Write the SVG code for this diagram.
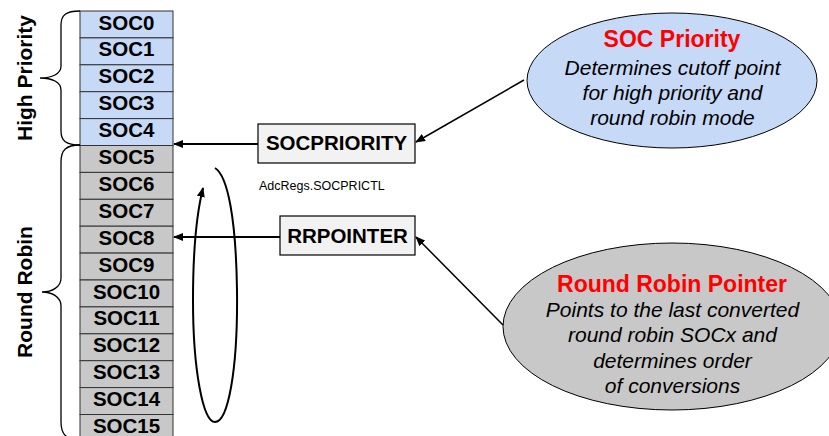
<svg xmlns="http://www.w3.org/2000/svg" width="829" height="436" viewBox="0 0 829 436">
<defs>
<marker id="ah" viewBox="0 0 10 10" refX="9" refY="5" markerWidth="10" markerHeight="10" markerUnits="userSpaceOnUse" orient="auto">
<path d="M0,1 L10,5 L0,9 z" fill="#000"/>
</marker>
<style>
.cell rect{stroke:#333;stroke-width:1}
.hp rect{fill:#C6D9F7}
.rr rect{fill:#C8C8C8}
.cell text{font-family:"Liberation Sans",Arial,sans-serif;font-weight:bold;font-size:20.5px;text-anchor:middle;fill:#000}
.lbl{font-family:"Liberation Sans",Arial,sans-serif;font-weight:bold;font-size:21px;text-anchor:middle;fill:#000}
.reg rect{fill:#F2F2F2;stroke:#000;stroke-width:1.2}
.reg text{font-family:"Liberation Sans",Arial,sans-serif;font-weight:bold;font-size:20.5px;text-anchor:middle;fill:#000}
.brace{fill:none;stroke:#000;stroke-width:1.3}
.conn path{fill:none;stroke:#000;stroke-width:2}
.conn .thin{stroke-width:1.5}
.bub ellipse{stroke:#000;stroke-width:1}
.bub .t{font-family:"Liberation Sans",Arial,sans-serif;font-weight:bold;font-size:23px;fill:#FF0000;text-anchor:middle}
.bub .d{font-family:"Liberation Sans",Arial,sans-serif;font-style:italic;font-size:21px;fill:#000;text-anchor:middle}
.small{font-family:"Liberation Sans",Arial,sans-serif;font-size:12.5px;fill:#000}
</style>
</defs>
<rect width="829" height="436" fill="#fff"/>

<g id="soc-column">
<g id="soc0" class="cell hp"><rect x="80" y="11" width="93" height="26.9"/><text x="126.5" y="29.5">SOC0</text></g>
<g id="soc1" class="cell hp"><rect x="80" y="37.9" width="93" height="26.9"/><text x="126.5" y="56.4">SOC1</text></g>
<g id="soc2" class="cell hp"><rect x="80" y="64.8" width="93" height="26.9"/><text x="126.5" y="83.3">SOC2</text></g>
<g id="soc3" class="cell hp"><rect x="80" y="91.7" width="93" height="26.9"/><text x="126.5" y="110.2">SOC3</text></g>
<g id="soc4" class="cell hp"><rect x="80" y="118.6" width="93" height="26.9"/><text x="126.5" y="137.1">SOC4</text></g>
<g id="soc5" class="cell rr"><rect x="80" y="145.5" width="93" height="26.9"/><text x="126.5" y="164">SOC5</text></g>
<g id="soc6" class="cell rr"><rect x="80" y="172.4" width="93" height="26.9"/><text x="126.5" y="190.9">SOC6</text></g>
<g id="soc7" class="cell rr"><rect x="80" y="199.3" width="93" height="26.9"/><text x="126.5" y="217.8">SOC7</text></g>
<g id="soc8" class="cell rr"><rect x="80" y="226.2" width="93" height="26.9"/><text x="126.5" y="244.7">SOC8</text></g>
<g id="soc9" class="cell rr"><rect x="80" y="253.1" width="93" height="26.9"/><text x="126.5" y="271.6">SOC9</text></g>
<g id="soc10" class="cell rr"><rect x="80" y="280" width="93" height="26.9"/><text x="126.5" y="298.5">SOC10</text></g>
<g id="soc11" class="cell rr"><rect x="80" y="306.9" width="93" height="26.9"/><text x="126.5" y="325.4">SOC11</text></g>
<g id="soc12" class="cell rr"><rect x="80" y="333.8" width="93" height="26.9"/><text x="126.5" y="352.3">SOC12</text></g>
<g id="soc13" class="cell rr"><rect x="80" y="360.7" width="93" height="26.9"/><text x="126.5" y="379.2">SOC13</text></g>
<g id="soc14" class="cell rr"><rect x="80" y="387.6" width="93" height="26.9"/><text x="126.5" y="406.1">SOC14</text></g>
<g id="soc15" class="cell rr"><rect x="80" y="414.5" width="93" height="26.9"/><text x="126.5" y="432.5">SOC15</text></g>
</g>

<g id="high-priority">
<path class="brace" d="M80,11 C66,11 61,15 61,25 L61,66 C61,74 52,78 40,78 C52,78 61,82 61,90 L61,131 C61,141 66,145 80,145"/>
<text class="lbl" transform="translate(32,78) rotate(-90)">High Priority</text>
</g>
<g id="round-robin">
<path class="brace" d="M80,145 C66,145 61,150 61,162 L61,278 C61,287 52,292 42,292 C52,292 61,297 61,306 L61,422 C61,434 66,440 80,440"/>
<text class="lbl" transform="translate(32,292) rotate(-90)">Round Robin</text>
</g>

<g id="socpriority" class="reg">
<rect x="258" y="124" width="157" height="39"/>
<text x="336.5" y="149.5">SOCPRIORITY</text>
</g>
<text id="socprictl" class="small" x="259" y="190">AdcRegs.SOCPRICTL</text>

<g id="rrpointer" class="reg">
<rect x="280" y="216" width="135" height="39"/>
<text x="347.5" y="242.5">RRPOINTER</text>
</g>

<g id="soc-priority-bubble" class="bub">
<ellipse cx="672" cy="80.5" rx="145" ry="67.5" fill="#C6D9F7"/>
<text class="t" x="672" y="47">SOC Priority</text>
<text class="d" x="672.5" y="75">Determines cutoff point</text>
<text class="d" x="672.5" y="100">for high priority and</text>
<text class="d" x="672.5" y="125">round robin mode</text>
</g>

<g id="rr-pointer-bubble" class="bub">
<ellipse cx="672" cy="326.5" rx="169" ry="83.5" fill="#C8C8C8"/>
<text class="t" x="672" y="292">Round Robin Pointer</text>
<text class="d" x="672.5" y="317">Points to the last converted</text>
<text class="d" x="672.5" y="342">round robin SOCx and</text>
<text class="d" x="672.5" y="368">determines order</text>
<text class="d" x="672.5" y="393">of conversions</text>
</g>

<g id="connectors" class="conn">
<path d="M258,144 L174,144" marker-end="url(#ah)"/>
<path d="M280,237 L174,237" marker-end="url(#ah)"/>
<path class="thin" d="M524,80 L416,142" marker-end="url(#ah)"/>
<path class="thin" d="M503,325 L416,237" marker-end="url(#ah)"/>
<path d="M215,168 C228,176 236,220 237,290 C238,370 228,422 215,422 C203,422 193,370 193,300 C193,250 197,212 203,188" marker-end="url(#ah)"/>
</g>
</svg>
